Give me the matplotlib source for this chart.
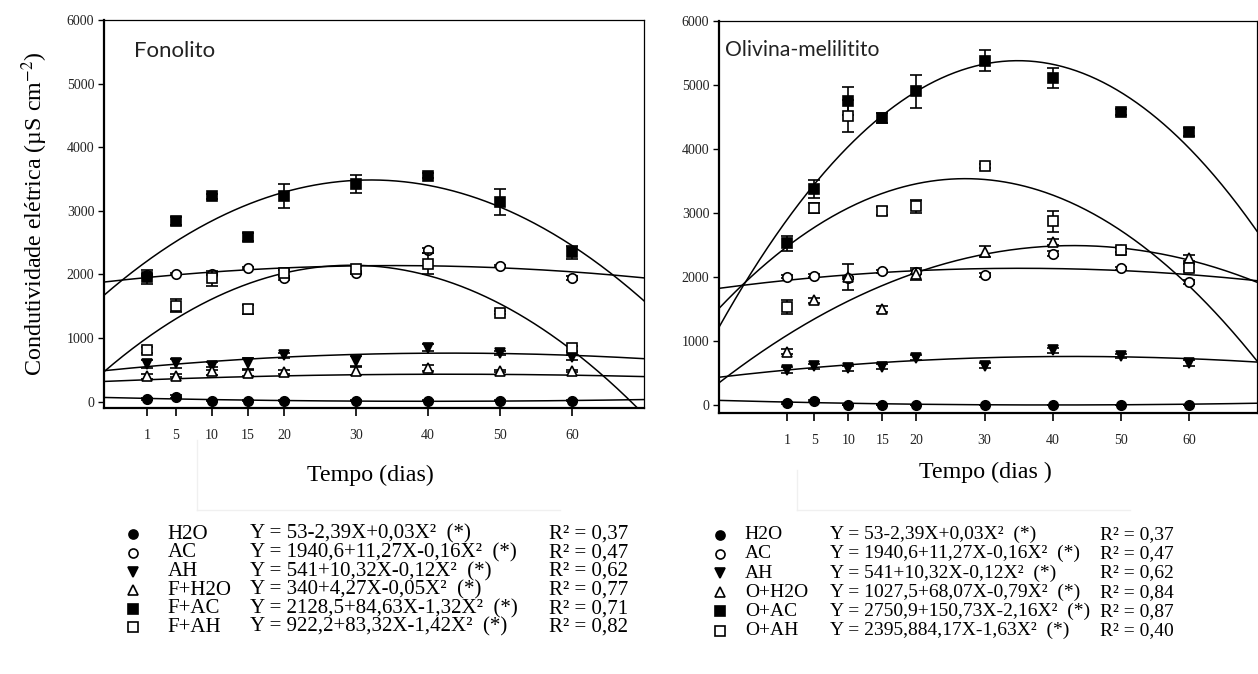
import numpy as np
import matplotlib
matplotlib.use("Agg")
import matplotlib.pyplot as plt
from matplotlib.lines import Line2D

# ---------------- data ----------------
days = [1, 5, 10, 15, 20, 30, 40, 50, 60]
tick_labels = ["1", "5", "10", "15", "20", "30", "40", "50", "60"]

series_names_left = ["H2O", "AC", "AH", "F+H2O", "F+AC", "F+AH"]
series_names_right = ["H2O", "AC", "AH", "O+H2O", "O+AC", "O+AH"]

# Fonolito panel (means and error bars)
left_h2o = [40, 80, 15, 15, 15, 15, 15, 15, 15]
left_ac = [1990, 2010, 2010, 2100, 1940, 2030, 2380, 2130, 1940]
left_ah = [590, 605, 560, 600, 730, 640, 850, 770, 700]
left_fh2o = [400, 410, 480, 450, 465, 480, 530, 480, 480]
left_fac = [1960, 2840, 3230, 2590, 3230, 3420, 3550, 3140, 2350]
left_fah = [810, 1510, 1940, 1450, 2020, 2090, 2170, 1400, 840]

left_h2o_err = [10, 20, 5, 5, 5, 5, 5, 5, 5]
left_ac_err = [20, 20, 20, 20, 30, 30, 40, 20, 30]
left_ah_err = [60, 70, 60, 90, 40, 80, 50, 30, 40]
left_fh2o_err = [40, 30, 60, 50, 30, 60, 50, 20, 20]
left_fac_err = [110, 70, 40, 60, 190, 140, 40, 200, 100]
left_fah_err = [50, 100, 120, 70, 50, 50, 160, 30, 40]

# Olivina-melilitito panel
right_h2o = [35, 70, 5, 5, 5, 5, 5, 5, 5]
right_ac = [2010, 2025, 1990, 2090, 2080, 2040, 2370, 2140, 1930]
right_ah = [550, 610, 580, 600, 740, 620, 860, 770, 660]
right_oh2o = [840, 1640, 2000, 1500, 2050, 2400, 2550, 2430, 2300]
right_oac = [2530, 3380, 4750, 4490, 4900, 5380, 5110, 4580, 4270]
right_oah = [1530, 3080, 4510, 3030, 3110, 3730, 2870, 2430, 2150]

right_h2o_err = [10, 20, 5, 5, 5, 5, 5, 5, 5]
right_ac_err = [30, 20, 20, 20, 30, 30, 40, 20, 30]
right_ah_err = [50, 40, 40, 40, 40, 40, 40, 30, 40]
right_oh2o_err = [40, 40, 200, 50, 100, 90, 50, 30, 50]
right_oac_err = [120, 140, 220, 80, 260, 160, 160, 40, 60]
right_oah_err = [110, 80, 250, 60, 100, 30, 160, 40, 60]

# quadratic fits (b0, b1, b2)
left_coefs = [(53, -2.39, 0.03), (1940.6, 11.27, -0.16), (541, 10.32, -0.12),
              (340, 4.27, -0.05), (2128.5, 84.63, -1.32), (922.2, 83.32, -1.42)]
right_coefs = [(53, -2.39, 0.03), (1940.6, 11.27, -0.16), (541, 10.32, -0.12),
               (1027.5, 68.07, -0.79), (2750.9, 150.73, -2.16), (2395.8, 84.17, -1.55)]

left_equations = ["Y = 53-2,39X+0,03X²  (*)", "Y = 1940,6+11,27X-0,16X²  (*)",
                  "Y = 541+10,32X-0,12X²  (*)", "Y = 340+4,27X-0,05X²  (*)",
                  "Y = 2128,5+84,63X-1,32X²  (*)", "Y = 922,2+83,32X-1,42X²  (*)"]
right_equations = ["Y = 53-2,39X+0,03X²  (*)", "Y = 1940,6+11,27X-0,16X²  (*)",
                   "Y = 541+10,32X-0,12X²  (*)", "Y = 1027,5+68,07X-0,79X²  (*)",
                   "Y = 2750,9+150,73X-2,16X²  (*)", "Y = 2395,884,17X-1,63X²  (*)"]
left_r2 = ["R² = 0,37", "R² = 0,47", "R² = 0,62", "R² = 0,77", "R² = 0,71", "R² = 0,82"]
right_r2 = ["R² = 0,37", "R² = 0,47", "R² = 0,62", "R² = 0,84", "R² = 0,87", "R² = 0,40"]

yticks = [0, 1000, 2000, 3000, 4000, 5000, 6000]

# ---------------- style ----------------
SERIF = ["Liberation Serif", "DejaVu Serif"]
plt.rcParams["mathtext.fontset"] = "stix"
styles = [
    dict(marker="o", mfc="black"),
    dict(marker="o", mfc="white"),
    dict(marker="v", mfc="black"),
    dict(marker="^", mfc="white"),
    dict(marker="s", mfc="black"),
    dict(marker="s", mfc="white"),
]

W, H = 1258, 674
fig = plt.figure(figsize=(W / 100, H / 100), dpi=100)


def fx(px):
    return px / W


def fy(py):
    return 1 - py / H


def panel(rect, xlim, ylim, vals, errs, coefs, title, title_pos, title_size):
    ax = fig.add_axes(rect)
    ax.set_xlim(*xlim)
    ax.set_ylim(*ylim)
    xx = np.linspace(xlim[0], xlim[1], 400)
    for c in coefs:
        yy = c[0] + c[1] * xx + c[2] * xx ** 2
        ax.plot(xx, yy, color="black", lw=1.1, zorder=2)
    for i, (v, e) in enumerate(zip(vals, errs)):
        st = styles[i]
        ax.errorbar(days, v, yerr=e, fmt=st["marker"], ms=6.8, mfc=st["mfc"],
                    mec="black", mew=1.2, ecolor="black", elinewidth=1.2,
                    capsize=4, capthick=1.2, zorder=3 + i)
    ax.set_xticks(days)
    ax.set_xticklabels(tick_labels)
    ax.set_yticks(yticks)
    ax.set_yticklabels([str(t) for t in yticks])
    for lab in ax.get_xticklabels() + ax.get_yticklabels():
        lab.set_family(SERIF)
        lab.set_fontsize(10)
        lab.set_color("#222222")
    ax.tick_params(axis="y", direction="out", length=4, width=1.0, pad=3)
    ax.tick_params(axis="x", direction="out", length=6, width=1.2, pad=9)
    for s in ["left", "bottom"]:
        ax.spines[s].set_linewidth(1.6)
    for s in ["top", "right"]:
        ax.spines[s].set_linewidth(0.9)
    ax.text(title_pos[0], title_pos[1], title, transform=ax.transAxes,
            family=["Lato", "DejaVu Sans"], fontsize=title_size, va="center", ha="left",
            color="#222222")
    return ax


axL = panel([fx(104), fy(408), fx(644 - 104), (408 - 20) / H], (-5, 70), (-100, 6000),
            [left_h2o, left_ac, left_ah, left_fh2o, left_fac, left_fah],
            [left_h2o_err, left_ac_err, left_ah_err, left_fh2o_err, left_fac_err, left_fah_err],
            left_coefs, "Fonolito", (0.055, 0.92), 16)
axR = panel([fx(719), fy(413), fx(1257 - 719), (413 - 21) / H], (-9, 70), (-120, 6000),
            [right_h2o, right_ac, right_ah, right_oh2o, right_oac, right_oah],
            [right_h2o_err, right_ac_err, right_ah_err, right_oh2o_err, right_oac_err, right_oah_err],
            right_coefs, "Olivina-melilitito", (0.012, 0.925), 15.2)

axL.set_ylabel("Condutividade elétrica (µS cm$^{-2}$)", family=SERIF, fontsize=17.3, labelpad=12)
fig.text(fx(370), fy(475), "Tempo (dias)", family=SERIF, fontsize=17.3, ha="center", va="center")
fig.text(fx(985), fy(472), "Tempo (dias )", family=SERIF, fontsize=17.3, ha="center", va="center")

# faint remnants of text boxes
for seg in [((197, 560), (510, 510)), ((197, 197), (440, 510)),
            ((797, 1130), (510, 510)), ((797, 797), (470, 510))]:
    fig.add_artist(Line2D([fx(seg[0][0]), fx(seg[0][1])], [fy(seg[1][0]), fy(seg[1][1])],
                          color="#f0f0f0", lw=1))


def legend_block(left_px, top_px, width_px, row_h, names, eqs, r2s, cols, fs):
    n = len(names)
    lax = fig.add_axes([fx(left_px), fy(top_px + row_h * n), fx(width_px), row_h * n / H])
    lax.set_xlim(0, 1)
    lax.set_ylim(n - 0.5, -0.5)
    lax.axis("off")
    for i in range(n):
        st = styles[i]
        lax.plot([cols[0]], [i], marker=st["marker"], ms=6.5, mfc=st["mfc"], mec="black",
                 mew=1.2, color="black", linestyle="none")
        lax.text(cols[1], i, names[i], family=SERIF, fontsize=fs, va="center", ha="left")
        lax.text(cols[2], i, eqs[i], family=SERIF, fontsize=fs, va="center", ha="left")
        lax.text(cols[3], i, r2s[i], family=SERIF, fontsize=fs, va="center", ha="left")


legend_block(120, 525, 460, 18.6, series_names_left, left_equations, left_r2,
             (0.028, 0.104, 0.283, 0.933), 15)
legend_block(705, 525, 480, 19.2, series_names_right, right_equations, right_r2,
             (0.031, 0.083, 0.26, 0.823), 14)

fig.savefig("out.png", dpi=100)
